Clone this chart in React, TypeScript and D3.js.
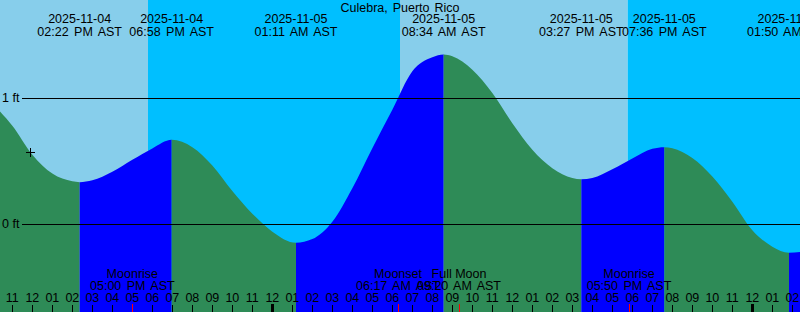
import React, { useEffect } from "react";
import * as d3 from "d3";

const W = 800;
const H = 312;

const title = "Culebra, Puerto Rico";

// window: 2025-11-04 10:23 AM AST .. +40 h (hours counted from 2025-11-04 00:00 AST)
const windowStart = { date: "2025-11-04", time: "10:23 AM" };
const windowHours = 40;

// tide extremes
const eventDates = ["2025-11-04", "2025-11-04", "2025-11-05", "2025-11-05", "2025-11-05", "2025-11-05", "2025-11-06"];
const eventTimes = ["02:22 PM", "06:58 PM", "01:11 AM", "08:34 AM", "03:27 PM", "07:36 PM", "01:50 AM"];
const eventKinds = ["low", "high", "low", "high", "low", "high", "low"];
const eventHeights = [0.332, 0.668, -0.149, 1.345, 0.355, 0.61, -0.228];

// hourly heights (ft), 11 AM 11-04 through 02 AM 11-06
const hourlyStart = 11;
const hourlyHeights = [
  0.78, 0.55, 0.4, 0.339, 0.347, 0.415, 0.51, 0.6, 0.667, 0.61,
  0.465, 0.262, 0.082, -0.061, -0.145, -0.12, 0.018, 0.284, 0.602, 0.907,
  1.212, 1.323, 1.331, 1.225, 1.04, 0.8, 0.589, 0.443, 0.365, 0.365,
  0.435, 0.52, 0.597, 0.602, 0.523, 0.376, 0.177, -0.05, -0.18, -0.227,
];
const edgeHeights = [0.893, -0.223]; // at the window's left and right edges

// sun
const sunDates = ["2025-11-04", "2025-11-05", "2025-11-05"];
const sunTimes = ["05:47 PM", "06:23 AM", "05:46 PM"];
const sunKinds = ["sunset", "sunrise", "sunset"];

// moon
const moonNames = ["Moonrise", "Moonset", "Full Moon", "Moonrise"];
const moonDates = ["2025-11-04", "2025-11-05", "2025-11-05", "2025-11-05"];
const moonTimes = ["05:00 PM", "06:17 AM", "09:20 AM", "05:50 PM"];

// current-time mark
const markDate = "2025-11-04";
const markTime = "11:54 AM";
const markHeight = 0.575;

const depthTicks = [0, 1];

const COLORS = {
  day: "#87CEEB",
  night: "#00BFFF",
  flood: "#0000FF",
  ebb: "#2E8B57",
  text: "#000000",
  moonTick: "#FF0000",
};

const FONT = "'Liberation Sans', Arial, Helvetica, sans-serif";

function toHours(date: string, time: string): number {
  const day = +date.slice(8, 10) - 4;
  const m = time.match(/(\d+):(\d+)\s*(AM|PM)/)!;
  let hh = +m[1] % 12;
  if (m[3] === "PM") hh += 12;
  return day * 24 + hh + +m[2] / 60;
}

export default function App() {
  useEffect(() => {
    document.body.style.margin = "0";
  }, []);

  const t0 = toHours(windowStart.date, windowStart.time);
  const t1 = t0 + windowHours;
  const x = d3.scaleLinear().domain([t0, t1]).range([0, W]);
  const y = d3.scaleLinear().domain([0, 1]).range([224, 98]);

  const events = eventTimes.map((t, i) => ({
    t: toHours(eventDates[i], t),
    h: eventHeights[i],
    kind: eventKinds[i],
    date: eventDates[i],
    time: t,
  }));

  const pts: { t: number; h: number }[] = [];
  pts.push({ t: t0, h: edgeHeights[0] });
  hourlyHeights.forEach((h, i) => {
    const t = hourlyStart + i;
    if (events.every((e) => Math.abs(e.t - t) > 0.2)) pts.push({ t, h });
  });
  events.forEach((e) => pts.push({ t: e.t, h: e.h }));
  pts.push({ t: t1, h: edgeHeights[1] });
  pts.sort((a, b) => a.t - b.t);
  const clean = pts.filter((p, i) => i === 0 || p.t - pts[i - 1].t > 1e-6);

  const area = d3
    .area<{ t: number; h: number }>()
    .x((d) => x(d.t))
    .y0(H)
    .y1((d) => y(d.h))
    .curve(d3.curveMonotoneX);

  // sun bands
  const sun = sunTimes.map((t, i) => ({ t: toHours(sunDates[i], t), kind: sunKinds[i] }));
  const bands: { a: number; b: number; color: string }[] = [];
  let prev = t0;
  let isDay = sun[0].kind === "sunset";
  sun.forEach((s) => {
    bands.push({ a: prev, b: s.t, color: isDay ? COLORS.day : COLORS.night });
    prev = s.t;
    isDay = s.kind === "sunrise";
  });
  bands.push({ a: prev, b: t1, color: isDay ? COLORS.day : COLORS.night });

  // flood / ebb segments
  const segs: { a: number; b: number; color: string }[] = [];
  let p0 = t0;
  events.forEach((e) => {
    segs.push({ a: p0, b: e.t, color: e.kind === "low" ? COLORS.ebb : COLORS.flood });
    p0 = e.t;
  });
  const last = events[events.length - 1];
  segs.push({ a: p0, b: t1, color: last.kind === "low" ? COLORS.flood : COLORS.ebb });

  const hours = d3.range(Math.ceil(t0), t1);
  const moon = moonTimes.map((t, i) => ({ t: toHours(moonDates[i], t), name: moonNames[i], time: t }));

  const mx = x(toHours(markDate, markTime));
  const my = y(markHeight);

  const fs = 12.5;

  return (
    <svg width={W} height={H} style={{ display: "block", position: "absolute", left: 0, top: 0 }} fontFamily={FONT}>
      <defs>
        <clipPath id="water">
          <path d={area(clean) || ""} />
        </clipPath>
      </defs>
      {bands.map((b, i) => (
        <rect key={"b" + i} x={x(b.a)} y={0} width={x(b.b) - x(b.a)} height={H} fill={b.color} />
      ))}
      <g clipPath="url(#water)">
        {segs.map((s, i) => (
          <rect key={"s" + i} x={x(s.a)} y={0} width={x(s.b) - x(s.a)} height={H} fill={s.color} />
        ))}
      </g>

      {depthTicks.map((d) => (
        <g key={"d" + d}>
          <line x1={22} x2={W} y1={Math.round(y(d)) + 0.5} y2={Math.round(y(d)) + 0.5} stroke="#000" strokeWidth={1} />
          <text x={2} y={y(d) + 4} fontSize={fs} fill={COLORS.text}>
            {d} ft
          </text>
        </g>
      ))}

      <text x={W / 2} y={12} textAnchor="middle" fontSize={fs} wordSpacing={1.5} fill={COLORS.text}>
        {title}
      </text>

      {events.map((e, i) => (
        <g key={"e" + i} fontSize={fs} textAnchor="middle" fill={COLORS.text}>
          <text x={x(e.t)} y={23}>{e.date}</text>
          <text x={x(e.t)} y={35.5} wordSpacing={2}>{e.time} AST</text>
        </g>
      ))}

      {moon.map((m, i) => (
        <g key={"m" + i} fontSize={fs} textAnchor="middle" fill={COLORS.text}>
          <text x={x(m.t)} y={278.3}>{m.name}</text>
          <text x={x(m.t)} y={289.5} wordSpacing={2}>{m.time} AST</text>
        </g>
      ))}

      {hours.map((h) => {
        const xx = Math.round(x(h));
        const midnight = h % 24 === 0;
        const lab = String(h % 12 === 0 ? 12 : h % 12).padStart(2, "0");
        return (
          <g key={"h" + h}>
            <text x={x(h)} y={301.7} textAnchor="middle" fontSize={fs} fill={COLORS.text}>
              {lab}
            </text>
            {midnight ? (
              <rect x={xx - 1} y={304} width={3} height={8} fill="#000" />
            ) : (
              <line x1={xx + 0.5} x2={xx + 0.5} y1={305} y2={H} stroke="#000" />
            )}
          </g>
        );
      })}
      {moon.map((m, i) => {
        const xx = Math.round(x(m.t));
        return <line key={"mt" + i} x1={xx + 0.5} x2={xx + 0.5} y1={304} y2={H} stroke={COLORS.moonTick} />;
      })}

      <g stroke="#000" strokeWidth={1}>
        <line x1={Math.round(mx) - 4} x2={Math.round(mx) + 5} y1={Math.round(my) + 0.5} y2={Math.round(my) + 0.5} />
        <line x1={Math.round(mx) + 0.5} x2={Math.round(mx) + 0.5} y1={Math.round(my) - 4} y2={Math.round(my) + 5} />
      </g>
    </svg>
  );
}
